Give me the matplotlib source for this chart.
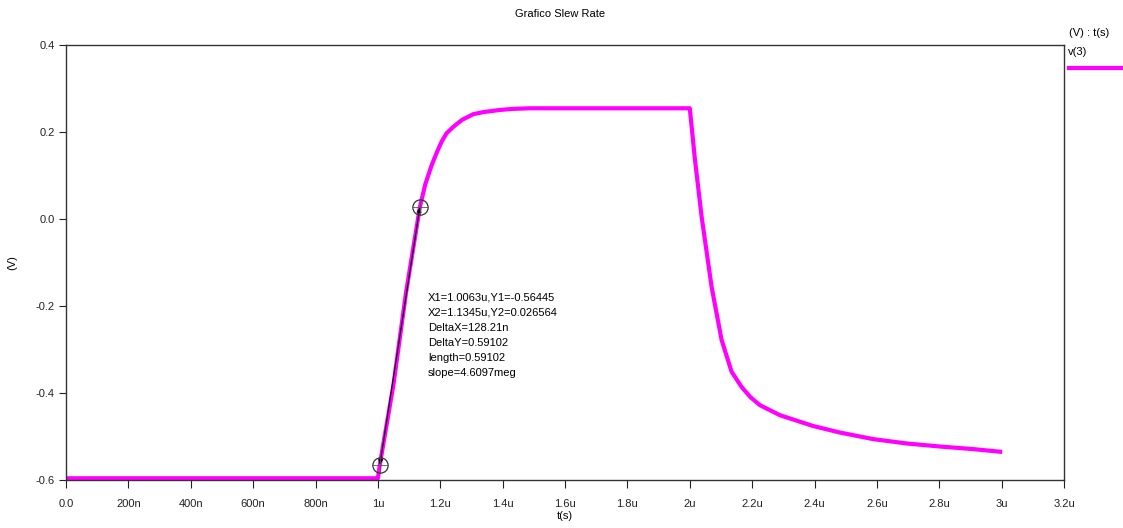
import matplotlib
matplotlib.use("Agg")
import matplotlib.pyplot as plt
from matplotlib.lines import Line2D

plt.rcParams["font.family"] = ["Liberation Sans", "DejaVu Sans"]

# v(3) transient, time in microseconds
t_us = [0.0, 1.0, 1.0063, 1.05, 1.09, 1.1345, 1.152, 1.1725, 1.19, 1.2045,
        1.22, 1.242, 1.27, 1.306, 1.34, 1.391, 1.43, 1.488, 2.0, 2.0167,
        2.038, 2.070, 2.102, 2.134, 2.166, 2.195, 2.225, 2.289, 2.396, 2.482,
        2.588, 2.695, 2.802, 2.909, 2.995]
v3 = [-0.596, -0.596, -0.564, -0.38, -0.17, 0.027, 0.08, 0.124, 0.155, 0.178,
      0.197, 0.212, 0.228, 0.241, 0.246, 0.2506, 0.253, 0.2545, 0.2545, 0.1356,
      0.005, -0.156, -0.278, -0.351, -0.386, -0.410, -0.428, -0.451, -0.476, -0.491,
      -0.506, -0.516, -0.523, -0.529, -0.535]

# cursor markers
x1, y1 = 1.0063, -0.56445
x2, y2 = 1.1345, 0.026564
cursor_text = ["X1=1.0063u,Y1=-0.56445", "X2=1.1345u,Y2=0.026564",
               "DeltaX=128.21n", "DeltaY=0.59102", "length=0.59102",
               "slope=4.6097meg"]

xticks = [0.0, 0.2, 0.4, 0.6, 0.8, 1.0, 1.2, 1.4, 1.6, 1.8, 2.0, 2.2, 2.4,
          2.6, 2.8, 3.0, 3.2]
xtick_labels = ["0.0", "200n", "400n", "600n", "800n", "1u", "1.2u", "1.4u",
                "1.6u", "1.8u", "2u", "2.2u", "2.4u", "2.6u", "2.8u", "3u", "3.2u"]
yticks = [-0.6, -0.4, -0.2, 0.0, 0.2, 0.4]
ytick_labels = ["-0.6", "-0.4", "-0.2", "0.0", "0.2", "0.4"]

fig = plt.figure(figsize=(11.23, 5.28), dpi=100)
ax = fig.add_axes([0.0588, 0.0909, 0.8887, 0.8239])

ax.plot(t_us, v3, color="#FF00FF", lw=3, zorder=2)

# cursor line with arrow heads
ax.annotate("", xy=(x2, y2), xytext=(x1, y1),
            arrowprops=dict(arrowstyle="<|-|>", color="black", lw=0.8,
                            mutation_scale=7, shrinkA=0, shrinkB=0), zorder=3)
for xc, yc in [(x1, y1), (x2, y2)]:
    ax.plot(xc, yc, marker="o", ms=11, mfc="none", mec="#333333", mew=0.9, zorder=4)
    ax.plot(xc, yc, marker="+", ms=11, mec="#555555", mew=0.6, zorder=4)

ax.text(1.161, -0.170, "\n".join(cursor_text), fontsize=8, va="top",
        ha="left", linespacing=1.62)

ax.set_xlim(0, 3.2)
ax.set_ylim(-0.6, 0.4)
ax.set_xticks(xticks)
ax.set_xticklabels(xtick_labels)
ax.set_yticks(yticks)
ax.set_yticklabels(ytick_labels)
ax.tick_params(axis="x", direction="out", length=6, width=0.8, labelsize=8,
               colors="#222222", pad=8)
ax.tick_params(axis="y", direction="out", length=5, width=0.8, labelsize=8,
               colors="#222222", pad=3)
for s in ax.spines.values():
    s.set_color("#333333")
    s.set_linewidth(1.0)

ax.set_xlabel("t(s)", fontsize=8, labelpad=1)
ax.set_ylabel("(V)", fontsize=8, labelpad=13)
fig.text(0.499, 0.973, "Grafico Slew Rate", fontsize=8, ha="center", va="center")

# legend box on the right
fig.text(0.952, 0.938, "(V) : t(s)", fontsize=8, ha="left", va="center")
fig.text(0.951, 0.901, "v(3)", fontsize=8, ha="left", va="center")
fig.add_artist(Line2D([0.952, 0.9995], [0.871, 0.871], color="#FF00FF", lw=3,
                      transform=fig.transFigure))

fig.savefig("out.png", dpi=100)
